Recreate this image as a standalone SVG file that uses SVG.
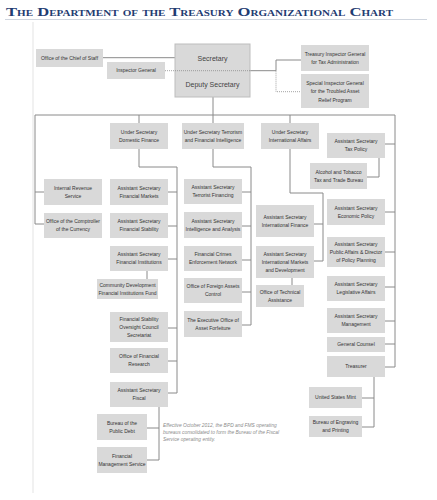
<svg xmlns="http://www.w3.org/2000/svg" width="437" height="500" viewBox="0 0 437 500">
<style>
.b{fill:#d9d9d9}
.t{font-family:"Liberation Sans",Arial,sans-serif;font-size:5px;fill:#333;text-anchor:middle}
.s{font-family:"Liberation Sans",Arial,sans-serif;font-size:7px;fill:#444;text-anchor:middle}
.c{fill:none;stroke:#8a8a8a;stroke-width:1}
.d{fill:none;stroke:#8a8a8a;stroke-width:0.8;stroke-dasharray:1 1}
.n{font-family:"Liberation Sans",Arial,sans-serif;font-size:4.9px;fill:#8c8c8c;font-style:italic}
</style>
<rect width="437" height="500" fill="#fff"/>
<text x="6" y="15.5" font-family="Liberation Serif,serif" font-weight="bold" font-size="12" fill="#1f3c72" style="font-variant:small-caps" textLength="387" lengthAdjust="spacingAndGlyphs">The Department of the Treasury Organizational Chart</text>
<line x1="5" y1="19.5" x2="427" y2="19.5" stroke="#cfd5de" stroke-width="1"/>
<line x1="33" y1="22" x2="33" y2="493" stroke="#e3e3e3" stroke-width="1"/>

<g id="connectors">
<path class="c" d="M103,57.7H175"/>
<path class="d" d="M165,70.7H250"/>
<path class="c" d="M250,70.7H276V60H301"/>
<path class="d" d="M276,70.7V91.7H301"/>
<path class="c" d="M213,97V123"/>
<path class="c" d="M35,115H395"/>
<path class="c" d="M35,115V224M35,192H44M35,224H44"/>
<path class="c" d="M139,115V123M139,149V167H177V393M168,192H177M168,226H177M168,259H177M168,328H177M168,361H177M168,393H177"/>
<path class="c" d="M147,271V279"/>
<path class="c" d="M159,407V460M147,428H159M147,460H159"/>
<path class="c" d="M213,149V167H251V325M242,192H251M242,226H251M242,260H251M242,292H251M242,325H251"/>
<path class="c" d="M290,115V123M290,149V193H323V261M314,224H323M314,261H323"/>
<path class="c" d="M292,278V285"/>
<path class="c" d="M395,115V367M385,144H395M385,212H395M385,252H395M385,287H395M385,321H395M385,344H395M385,367H395"/>
<path class="c" d="M379,158V177H367"/>
<path class="c" d="M374,377V427M362,398H374M362,427H374"/>
</g>

<g id="chief-of-staff"><rect class="b" x="36" y="49" width="67" height="18"/><text class="t" x="69.5" y="59.8">Office of the Chief of Staff</text></g>
<g id="inspector-general"><rect class="b" x="107" y="62" width="58" height="17"/><text class="t" x="136" y="72.3">Inspector General</text></g>
<g id="secretary"><rect x="175" y="44" width="75" height="53" fill="#d9d9d9" stroke="#bdbdbd" stroke-width="1"/><line x1="175" y1="70.7" x2="250" y2="70.7" class="d"/><text class="s" x="212.5" y="61">Secretary</text><text class="s" x="212.5" y="86.5">Deputy Secretary</text></g>
<g id="tigta"><rect class="b" x="301" y="45" width="68" height="26"/><text class="t"><tspan x="335" y="55.8">Treasury Inspector General</tspan><tspan x="335" y="63.8">for Tax Administration</tspan></text></g>
<g id="sigtarp"><rect class="b" x="301" y="74" width="68" height="34"/><text class="t"><tspan x="335" y="85">Special Inspector General</tspan><tspan x="335" y="93.3">for the Troubled Asset</tspan><tspan x="335" y="101.6">Relief Program</tspan></text></g>

<g id="us-domestic-finance"><rect class="b" x="110" y="123" width="58" height="26"/><text class="t"><tspan x="139" y="133.8">Under Secretary</tspan><tspan x="139" y="141.8">Domestic Finance</tspan></text></g>
<g id="us-terrorism"><rect class="b" x="182" y="123" width="62" height="26"/><text class="t"><tspan x="213" y="133.8">Under Secretary Terrorism</tspan><tspan x="213" y="141.8">and Financial Intelligence</tspan></text></g>
<g id="us-international"><rect class="b" x="261" y="123" width="58" height="26"/><text class="t"><tspan x="290" y="133.8">Under Secretary</tspan><tspan x="290" y="141.8">International Affairs</tspan></text></g>

<g id="as-tax-policy"><rect class="b" x="327" y="133" width="58" height="25"/><text class="t"><tspan x="356" y="143.3">Assistant Secretary</tspan><tspan x="356" y="151.3">Tax Policy</tspan></text></g>
<g id="ttb"><rect class="b" x="310" y="163" width="57" height="26"/><text class="t"><tspan x="338.5" y="173.8">Alcohol and Tobacco</tspan><tspan x="338.5" y="181.8">Tax and Trade Bureau</tspan></text></g>

<g id="irs"><rect class="b" x="44" y="179" width="58" height="26"/><text class="t"><tspan x="73" y="189.8">Internal Revenue</tspan><tspan x="73" y="197.8">Service</tspan></text></g>
<g id="occ"><rect class="b" x="44" y="213" width="58" height="25"/><text class="t"><tspan x="73" y="223.3">Office of the Comptroller</tspan><tspan x="73" y="231.3">of the Currency</tspan></text></g>

<g id="as-financial-markets"><rect class="b" x="110" y="179" width="58" height="26"/><text class="t"><tspan x="139" y="189.8">Assistant Secretary</tspan><tspan x="139" y="197.8">Financial Markets</tspan></text></g>
<g id="as-financial-stability"><rect class="b" x="110" y="213" width="58" height="25"/><text class="t"><tspan x="139" y="223.3">Assistant Secretary</tspan><tspan x="139" y="231.3">Financial Stability</tspan></text></g>
<g id="as-financial-institutions"><rect class="b" x="110" y="246" width="58" height="25"/><text class="t"><tspan x="139" y="256.3">Assistant Secretary</tspan><tspan x="139" y="264.3">Financial Institutions</tspan></text></g>
<g id="cdfi"><rect class="b" x="97" y="279" width="61" height="20"/><text class="t"><tspan x="127.5" y="286.8">Community Development</tspan><tspan x="127.5" y="294.8">Financial Institutions Fund</tspan></text></g>
<g id="fsoc"><rect class="b" x="110" y="312" width="58" height="30"/><text class="t"><tspan x="139" y="320.8">Financial Stability</tspan><tspan x="139" y="328.8">Oversight Council</tspan><tspan x="139" y="336.8">Secretariat</tspan></text></g>
<g id="ofr"><rect class="b" x="110" y="348" width="58" height="25"/><text class="t"><tspan x="139" y="358.3">Office of Financial</tspan><tspan x="139" y="366.3">Research</tspan></text></g>
<g id="as-fiscal"><rect class="b" x="110" y="382" width="58" height="25"/><text class="t"><tspan x="139" y="392.3">Assistant Secretary</tspan><tspan x="139" y="400.3">Fiscal</tspan></text></g>
<g id="bpd"><rect class="b" x="97" y="414" width="50" height="26"/><text class="t"><tspan x="122" y="424.8">Bureau of the</tspan><tspan x="122" y="432.8">Public Debt</tspan></text></g>
<g id="fms"><rect class="b" x="97" y="447" width="50" height="26"/><text class="t"><tspan x="122" y="457.8">Financial</tspan><tspan x="122" y="465.8">Management Service</tspan></text></g>
<g id="note"><text class="n"><tspan x="163" y="426.7">Effective October 2012, the BPD and FMS operating</tspan><tspan x="163" y="433.7">bureaus consolidated to form the Bureau of the Fiscal</tspan><tspan x="163" y="440.7">Service operating entity.</tspan></text></g>

<g id="as-terrorist-financing"><rect class="b" x="184" y="179" width="58" height="25"/><text class="t"><tspan x="213" y="189.3">Assistant Secretary</tspan><tspan x="213" y="197.3">Terrorist Financing</tspan></text></g>
<g id="as-intelligence"><rect class="b" x="184" y="212" width="58" height="26"/><text class="t"><tspan x="213" y="222.8">Assistant Secretary</tspan><tspan x="213" y="230.8">Intelligence and Analysis</tspan></text></g>
<g id="fincen"><rect class="b" x="184" y="246" width="58" height="25"/><text class="t"><tspan x="213" y="256.3">Financial Crimes</tspan><tspan x="213" y="264.3">Enforcement Network</tspan></text></g>
<g id="ofac"><rect class="b" x="184" y="278" width="58" height="25"/><text class="t"><tspan x="213" y="288.3">Office of Foreign Assets</tspan><tspan x="213" y="296.3">Control</tspan></text></g>
<g id="teoaf"><rect class="b" x="184" y="311" width="58" height="26"/><text class="t"><tspan x="213" y="321.8">The Executive Office of</tspan><tspan x="213" y="329.8">Asset Forfeiture</tspan></text></g>

<g id="as-international-finance"><rect class="b" x="256" y="205" width="58" height="32"/><text class="t"><tspan x="285" y="218.8">Assistant Secretary</tspan><tspan x="285" y="226.8">International Finance</tspan></text></g>
<g id="as-international-markets"><rect class="b" x="256" y="246" width="58" height="32"/><text class="t"><tspan x="285" y="255.8">Assistant Secretary</tspan><tspan x="285" y="263.8">International Markets</tspan><tspan x="285" y="271.8">and Development</tspan></text></g>
<g id="ota"><rect class="b" x="256" y="285" width="48" height="22"/><text class="t"><tspan x="280" y="293.8">Office of Technical</tspan><tspan x="280" y="301.8">Assistance</tspan></text></g>

<g id="as-economic-policy"><rect class="b" x="327" y="199" width="58" height="26"/><text class="t"><tspan x="356" y="209.8">Assistant Secretary</tspan><tspan x="356" y="217.8">Economic Policy</tspan></text></g>
<g id="as-public-affairs"><rect class="b" x="327" y="237" width="58" height="30"/><text class="t"><tspan x="356" y="245.8">Assistant Secretary</tspan><tspan x="356" y="253.8">Public Affairs &amp; Director</tspan><tspan x="356" y="261.8">of Policy Planning</tspan></text></g>
<g id="as-legislative"><rect class="b" x="327" y="276" width="58" height="25"/><text class="t"><tspan x="356" y="286.3">Assistant Secretary</tspan><tspan x="356" y="294.3">Legislative Affairs</tspan></text></g>
<g id="as-management"><rect class="b" x="327" y="308" width="58" height="25"/><text class="t"><tspan x="356" y="318.3">Assistant Secretary</tspan><tspan x="356" y="326.3">Management</tspan></text></g>
<g id="general-counsel"><rect class="b" x="327" y="337" width="58" height="15"/><text class="t" x="356" y="346.3">General Counsel</text></g>
<g id="treasurer"><rect class="b" x="327" y="356" width="58" height="21"/><text class="t" x="356" y="368.3">Treasurer</text></g>
<g id="us-mint"><rect class="b" x="309" y="387" width="53" height="21"/><text class="t" x="335.5" y="399.3">United States Mint</text></g>
<g id="bep"><rect class="b" x="309" y="416" width="53" height="21"/><text class="t"><tspan x="335.5" y="424.3">Bureau of Engraving</tspan><tspan x="335.5" y="432.3">and Printing</tspan></text></g>
</svg>
